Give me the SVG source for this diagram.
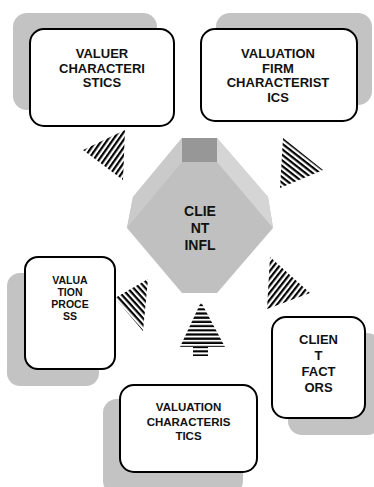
<svg xmlns="http://www.w3.org/2000/svg" width="374" height="487" viewBox="0 0 374 487">
<style>
.sh{fill:#c3c3c3}
.bx{fill:#fff;stroke:#000;stroke-width:2}
.t{font-family:"Liberation Sans",Arial,sans-serif;font-weight:bold;text-anchor:middle;fill:#111}
</style>
<defs>
<pattern id="s1" patternUnits="userSpaceOnUse" width="4.4" height="4.4" patternTransform="rotate(-55)"><rect width="4.4" height="2.2" fill="#000"/></pattern>
<pattern id="s2" patternUnits="userSpaceOnUse" width="4.4" height="4.4" patternTransform="rotate(38)"><rect width="4.4" height="2.2" fill="#000"/></pattern>
<pattern id="s3" patternUnits="userSpaceOnUse" width="4.4" height="4.4" patternTransform="rotate(48)"><rect width="4.4" height="2.2" fill="#000"/></pattern>
<pattern id="s4" patternUnits="userSpaceOnUse" width="4.4" height="4.4" patternTransform="rotate(-52)"><rect width="4.4" height="2.2" fill="#000"/></pattern>
<pattern id="s5" patternUnits="userSpaceOnUse" x="0" y="302" width="4.2" height="4.2"><rect y="2" width="4.2" height="2.2" fill="#000"/></pattern>
</defs>
<g id="connectors">
<polygon points="125,130 83,150 123,180" fill="url(#s1)"/>
<polygon points="283,138 323,170 280,188" fill="url(#s2)"/>
<polygon points="148,279 115,298 143,331" fill="url(#s3)"/>
<polygon points="270,257 310,293 267,309" fill="url(#s4)"/>
<polygon points="201,302 180,347 193,347 193,356 208,356 208,347 225,347" fill="url(#s5)"/>
</g>
<g id="valuer">
<rect class="sh" x="13" y="13" width="144" height="97" rx="14"/>
<rect class="bx" x="30" y="29" width="144" height="97" rx="14"/>
<text class="t" font-size="13"><tspan x="102" y="58">VALUER</tspan><tspan x="102" y="72.5">CHARACTERI</tspan><tspan x="102" y="87">STICS</tspan></text>
</g>
<g id="firm">
<rect class="sh" x="216" y="13" width="156" height="92" rx="14"/>
<rect class="bx" x="201" y="29" width="156" height="92" rx="14"/>
<text class="t" font-size="13"><tspan x="278" y="58">VALUATION</tspan><tspan x="278" y="72.5">FIRM</tspan><tspan x="278" y="87">CHARACTERIST</tspan><tspan x="278" y="101.5">ICS</tspan></text>
</g>
<g id="client-infl">
<polygon points="182,138 217,138 268,197 273,228 217,293 182,293 127,228 133,197" fill="#c0c0c0"/>
<polygon points="182,138 182,162 127,228 133,197" fill="#cacaca"/>
<polygon points="217,138 268,197 273,228 217,162" fill="#d5d5d5"/>
<rect x="182" y="138" width="35" height="24" fill="#979797"/>
<text class="t" font-size="14"><tspan x="200" y="216">CLIE</tspan><tspan x="200" y="233">NT</tspan><tspan x="200" y="250">INFL</tspan></text>
</g>
<g id="process">
<rect class="sh" x="7" y="273" width="92" height="113" rx="13"/>
<rect class="bx" x="25" y="257" width="90" height="112" rx="13"/>
<text class="t" font-size="10.5"><tspan x="70" y="284">VALUA</tspan><tspan x="70" y="296">TION</tspan><tspan x="70" y="308">PROCE</tspan><tspan x="70" y="320">SS</tspan></text>
</g>
<g id="client-factors">
<rect class="sh" x="288" y="333" width="93" height="102" rx="14"/>
<rect class="bx" x="272" y="317" width="93" height="101" rx="14"/>
<text class="t" font-size="13"><tspan x="318.5" y="344">CLIEN</tspan><tspan x="318.5" y="360">T</tspan><tspan x="318.5" y="376">FACT</tspan><tspan x="318.5" y="392">ORS</tspan></text>
</g>
<g id="valuation-char">
<rect class="sh" x="103" y="399" width="140" height="96" rx="14"/>
<rect class="bx" x="120" y="385" width="137" height="87" rx="14"/>
<text class="t" font-size="11.5"><tspan x="188.5" y="411">VALUATION</tspan><tspan x="188.5" y="425.5">CHARACTERIS</tspan><tspan x="188.5" y="439.5">TICS</tspan></text>
</g>
</svg>
